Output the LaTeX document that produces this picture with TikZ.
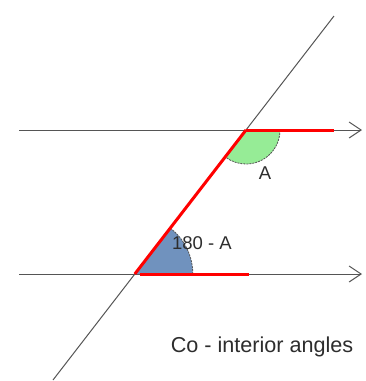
\documentclass[tikz,border=0pt]{standalone}
\usepackage{fontspec}
\setmainfont{Liberation Sans}
\usetikzlibrary{arrows.meta}
\definecolor{linegray}{RGB}{85,85,85}
\definecolor{anglegreen}{RGB}{150,236,150}
\definecolor{angleblue}{RGB}{112,146,190}
\definecolor{redline}{RGB}{255,0,0}
\definecolor{textgray}{RGB}{45,45,45}
\tikzset{
  thinline/.style={draw=linegray, line width=1pt},
  parline/.style={thinline, -{Straight Barb[length=12pt,width=16pt,line width=1pt]}},
  redseg/.style={draw=redline, line width=3pt},
  arcborder/.style={draw=linegray, line width=0.8pt, dash pattern=on 2pt off 1pt},
  lbl/.style={text=textgray, inner sep=0pt},
}
\begin{document}
\begin{tikzpicture}[x=1pt, y=-1pt]
  \useasboundingbox (0,0) rectangle (366,381);
  \fill[white] (0,0) rectangle (366,381);
  % coordinates
  \coordinate (L1s) at (19,130);
  \coordinate (L1e) at (362,130);
  \coordinate (L2s) at (19,274);
  \coordinate (L2e) at (362,274);
  \coordinate (Ts) at (53,380);
  \coordinate (Te) at (334,16);
  \coordinate (P) at (246,130);
  \coordinate (Q) at (134.8,274);
  \coordinate (R1) at (334,130);
  \coordinate (R2) at (249,274);
  \coordinate (R2s) at (140,274);
  % parallel lines and transversal
  \draw[parline] (L1s) -- (L1e);
  \draw[parline] (L2s) -- (L2e);
  \draw[thinline] (Ts) -- (Te);
  % angle sectors
  \fill[anglegreen] (P) -- ++(34,0) arc[start angle=0, end angle=127.65, radius=34] -- cycle;
  \draw[arcborder] (P) ++(34,0) arc[start angle=0, end angle=127.65, radius=34];
  \fill[angleblue] (Q) -- ++(58,0) arc[start angle=0, end angle=-52.35, radius=58] -- cycle;
  \draw[arcborder] (Q) ++(58,0) arc[start angle=0, end angle=-52.35, radius=58];
  % red segments
  \draw[redseg] (P) -- (R1);
  \draw[redseg] (Q) -- (P);
  \draw[redseg] (R2s) -- (R2);
  % labels
  \node[lbl, font=\fontsize{18.5}{20}\selectfont] (la) at (265,173) {A};
  \node[lbl, font=\fontsize{18.5}{20}\selectfont] (lb) at (202,243) {180 - A};
  \node[lbl, font=\fontsize{21.6}{24}\selectfont] (title) at (262,347) {Co - interior angles};
\end{tikzpicture}
\end{document}
